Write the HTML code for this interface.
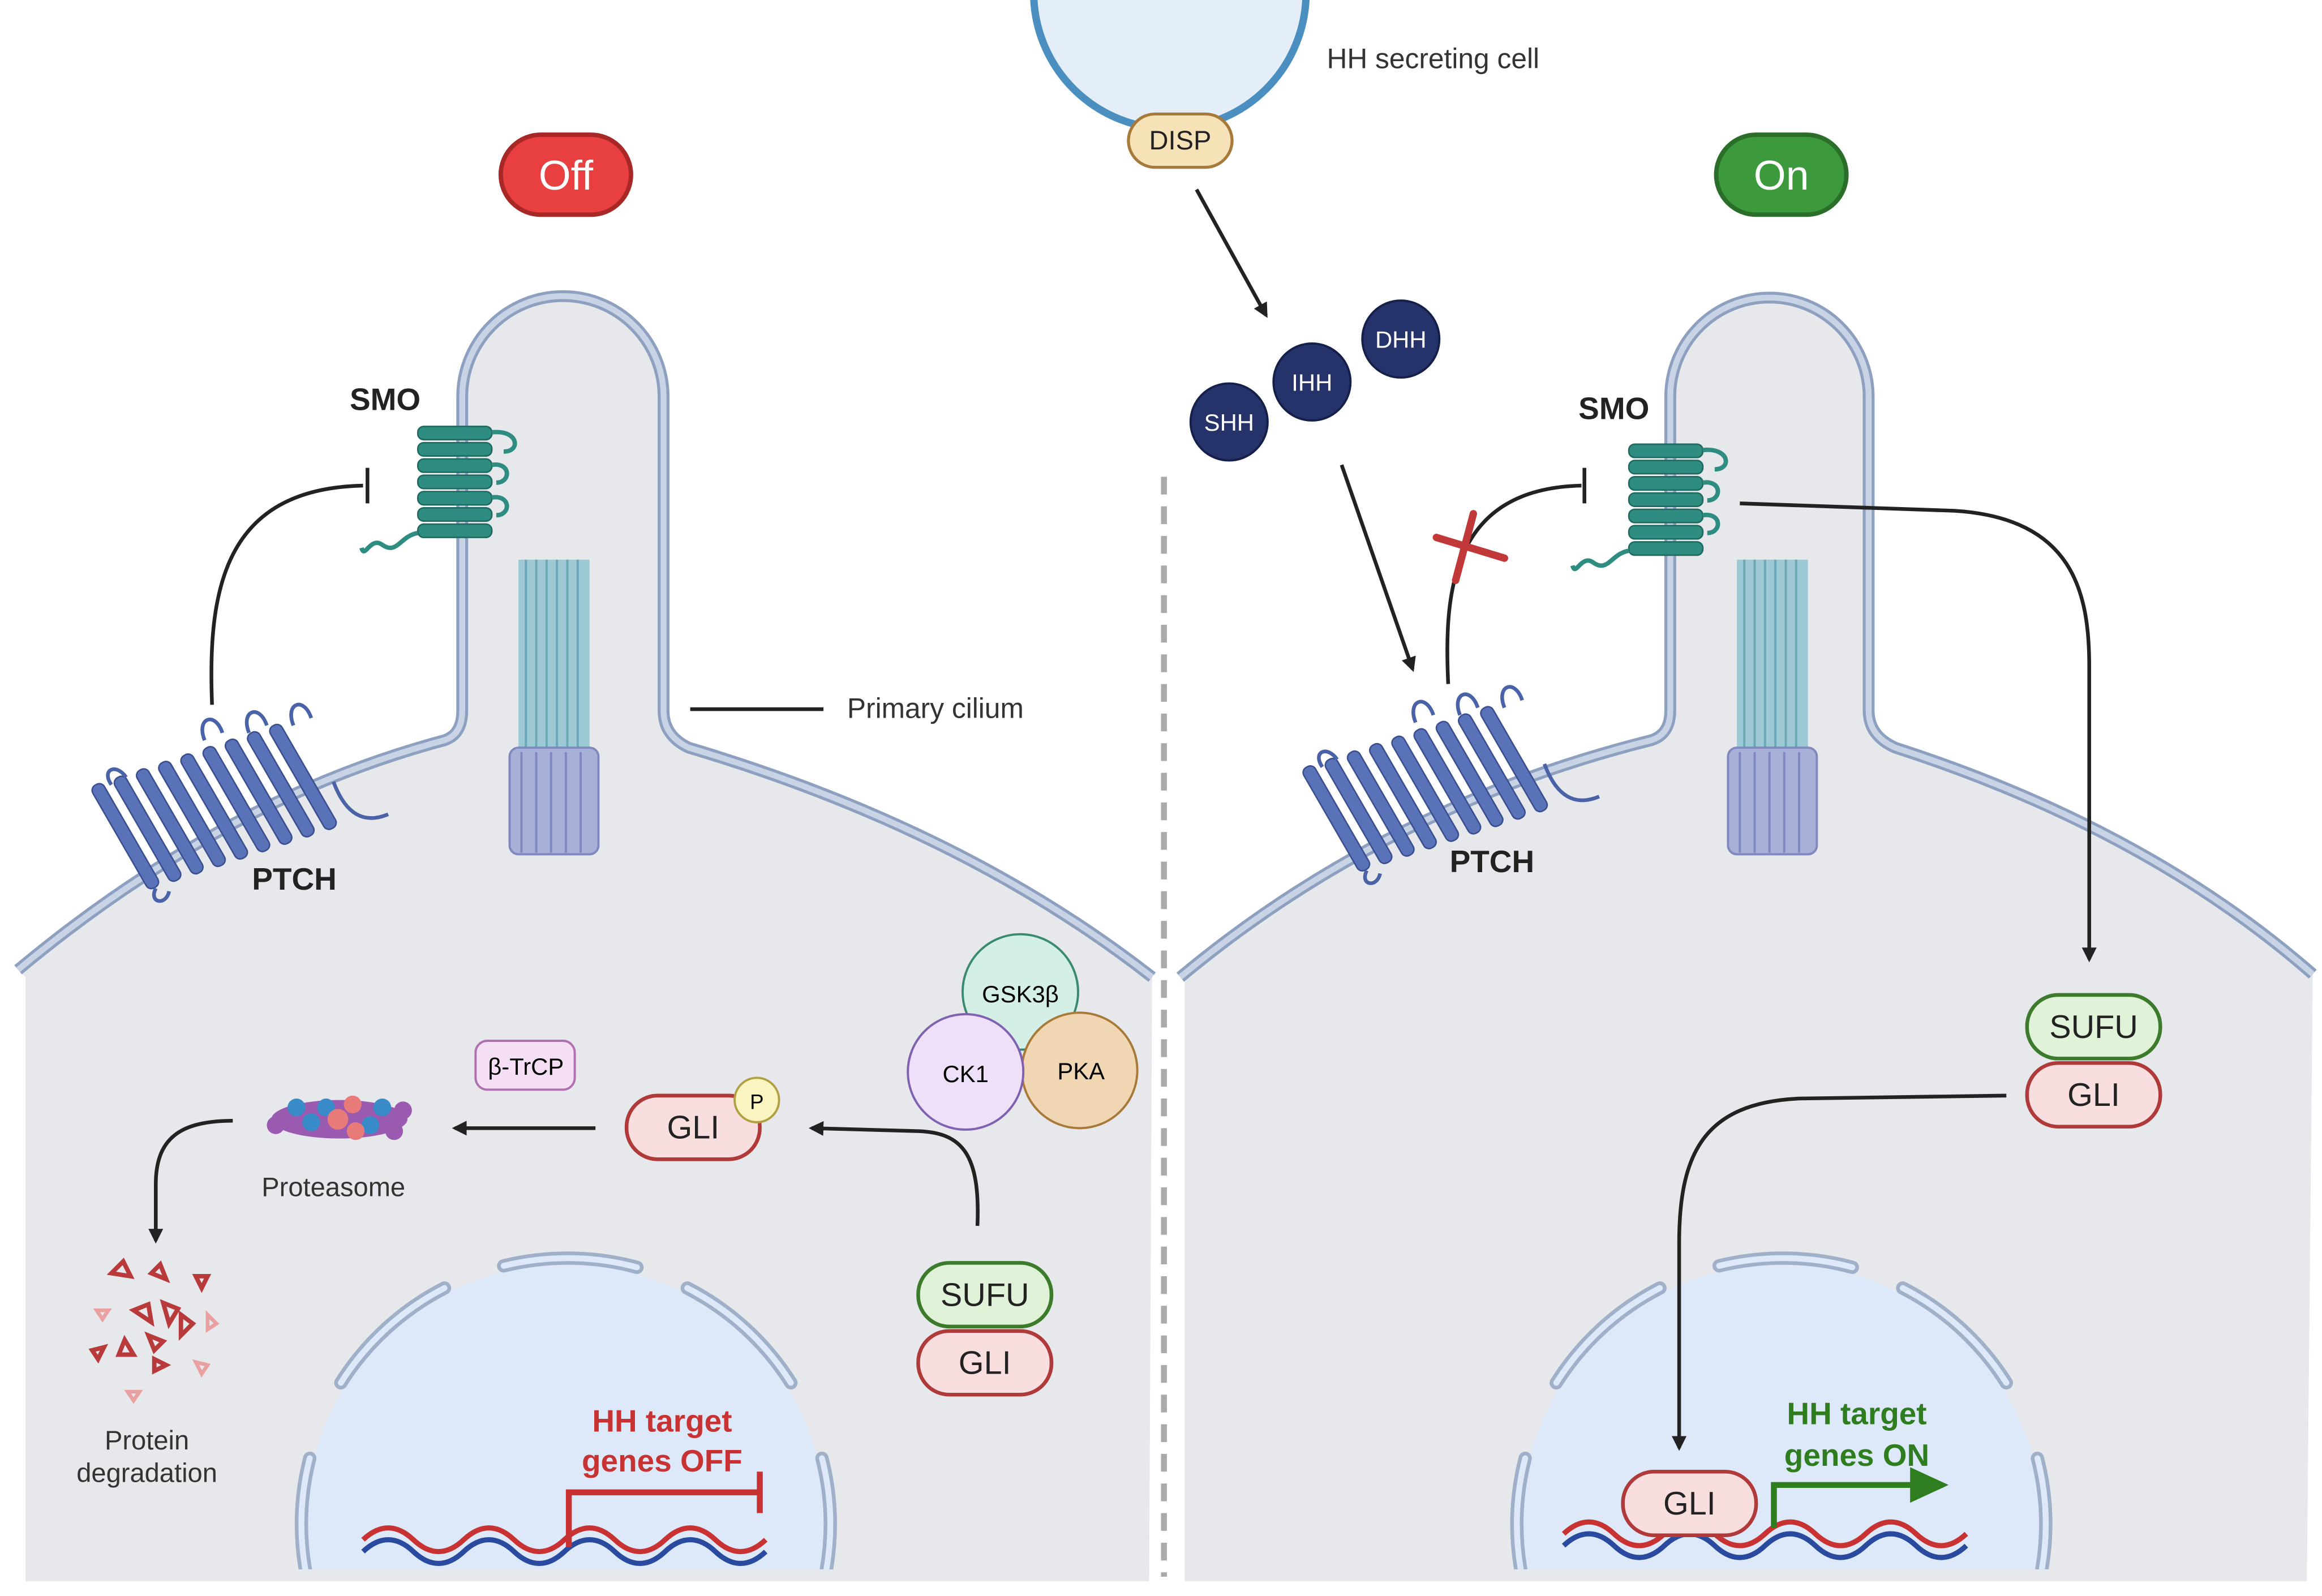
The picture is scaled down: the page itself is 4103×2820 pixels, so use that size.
<!DOCTYPE html>
<html><head><meta charset="utf-8"><style>
html,body{margin:0;padding:0;background:#fff;overflow:hidden;width:4103px;height:2820px;}
svg{display:block;}
text{font-family:"Liberation Sans",sans-serif;}
</style></head><body>
<svg width="4103" height="2820" viewBox="0 0 1568 1078" xmlns="http://www.w3.org/2000/svg">
<defs>
<marker id="ah" markerWidth="10" markerHeight="10" refX="8" refY="5" orient="auto" markerUnits="userSpaceOnUse"><path d="M0,0 L10,5 L0,10 z" fill="#222"/></marker>
<marker id="ahg" markerWidth="30" markerHeight="30" refX="22" refY="12" orient="auto" markerUnits="userSpaceOnUse"><path d="M0,0 L26,12 L0,24 z" fill="#2e7d1e"/></marker>
<clipPath id="cl"><rect x="17" y="0" width="759" height="1060"/></clipPath>
<clipPath id="cr"><rect x="800" y="0" width="758" height="1060"/></clipPath>
<g id="env">
 <path d="M230,934 A180,180 0 0 1 300,870 M340,855 A180,180 0 0 1 430,856 M464,870 A180,180 0 0 1 534,934 M209,985 A180,180 0 0 0 206,1060 M555,985 A180,180 0 0 1 558,1060" fill="none" stroke="#9fb0c8" stroke-width="9" stroke-linecap="round"/>
 <path d="M230,934 A180,180 0 0 1 300,870 M340,855 A180,180 0 0 1 430,856 M464,870 A180,180 0 0 1 534,934 M209,985 A180,180 0 0 0 206,1060 M555,985 A180,180 0 0 1 558,1060" fill="none" stroke="#dde9f8" stroke-width="4" stroke-linecap="round"/>
</g>
<g id="axo">
 <rect x="350" y="378" width="48" height="132" fill="#9cc9d4"/>
 <g stroke="#6aa8b8" stroke-width="1.5"><line x1="355" y1="378" x2="355" y2="510"/><line x1="362" y1="378" x2="362" y2="510"/><line x1="369" y1="378" x2="369" y2="510"/><line x1="376" y1="378" x2="376" y2="510"/><line x1="383" y1="378" x2="383" y2="510"/><line x1="390" y1="378" x2="390" y2="510"/></g>
 <rect x="344" y="505" width="60" height="72" rx="6" fill="#a8b0d8" stroke="#8088c0" stroke-width="1.5"/>
 <g stroke="#8088c0" stroke-width="1.5"><line x1="352" y1="508" x2="352" y2="576"/><line x1="362" y1="508" x2="362" y2="576"/><line x1="372" y1="508" x2="372" y2="576"/><line x1="382" y1="508" x2="382" y2="576"/><line x1="392" y1="508" x2="392" y2="576"/></g>
</g>
<g id="smo">
 <g fill="#2e8c80" stroke="#1f6a60" stroke-width="1">
 <rect x="282" y="288" width="50" height="9" rx="4"/><rect x="282" y="299" width="50" height="9" rx="4"/><rect x="282" y="310" width="50" height="9" rx="4"/><rect x="282" y="321" width="50" height="9" rx="4"/><rect x="282" y="332" width="50" height="9" rx="4"/><rect x="282" y="343" width="50" height="9" rx="4"/><rect x="282" y="354" width="50" height="9" rx="4"/>
 </g>
 <path d="M332,292 C350,290 352,305 340,305 M332,314 C345,312 345,326 335,326 M332,336 C345,334 345,348 335,348 M282,360 C270,362 268,375 258,368 C250,362 246,378 244,370" fill="none" stroke="#2e8c80" stroke-width="3"/>
</g>
<g id="ptch">
 <g fill="#5a72b8" stroke="#3a4f90" stroke-width="1">
 <rect x="80" y="525" width="9" height="80" rx="4" transform="rotate(-30 84 565)"/>
 <rect x="95" y="520" width="9" height="80" rx="4" transform="rotate(-30 99 560)"/>
 <rect x="110" y="515" width="9" height="80" rx="4" transform="rotate(-30 114 555)"/>
 <rect x="125" y="510" width="9" height="80" rx="4" transform="rotate(-30 129 550)"/>
 <rect x="140" y="505" width="9" height="80" rx="4" transform="rotate(-30 144 545)"/>
 <rect x="155" y="500" width="9" height="80" rx="4" transform="rotate(-30 159 540)"/>
 <rect x="170" y="495" width="9" height="80" rx="4" transform="rotate(-30 174 535)"/>
 <rect x="185" y="490" width="9" height="80" rx="4" transform="rotate(-30 189 530)"/>
 <rect x="200" y="485" width="9" height="80" rx="4" transform="rotate(-30 204 525)"/>
 </g>
 <g fill="none" stroke="#4a62a8" stroke-width="2.5">
 <path d="M138,500 C132,485 145,480 150,495"/><path d="M168,495 C162,480 175,475 180,490"/><path d="M198,490 C192,475 205,470 210,485"/>
 <path d="M225,528 C235,555 250,555 262,550"/>
 <path d="M75,530 C68,520 78,515 85,525"/><path d="M105,600 C100,610 112,612 114,602"/>
 </g>
</g>
</defs>

<path d="M12,655 Q150,540 300,500 Q312,496 312,480 L312,268 A68,68 0 0 1 448,268 L448,480 Q448,497 465,505 Q650,560 778,660 L776,1068 L17,1068 L17,660 Z" fill="#e7e8eb"/>
<path d="M12,655 Q150,540 300,500 Q312,496 312,480 L312,268 A68,68 0 0 1 448,268 L448,480 Q448,497 465,505 Q650,560 778,660" fill="none" stroke="#8da0c0" stroke-width="8"/>
<path d="M12,655 Q150,540 300,500 Q312,496 312,480 L312,268 A68,68 0 0 1 448,268 L448,480 Q448,497 465,505 Q650,560 778,660" fill="none" stroke="#c9d3e6" stroke-width="4"/>
<path d="M797,660 Q935,545 1115,500 Q1128,496 1128,480 L1128,268 A67,67 0 0 1 1262,268 L1262,480 Q1262,497 1280,505 Q1450,560 1562,658 L1558,1068 L800,1068 L800,660 Z" fill="#e7e8eb"/>
<path d="M797,660 Q935,545 1115,500 Q1128,496 1128,480 L1128,268 A67,67 0 0 1 1262,268 L1262,480 Q1262,497 1280,505 Q1450,560 1562,658" fill="none" stroke="#8da0c0" stroke-width="8"/>
<path d="M797,660 Q935,545 1115,500 Q1128,496 1128,480 L1128,268 A67,67 0 0 1 1262,268 L1262,480 Q1262,497 1280,505 Q1450,560 1562,658" fill="none" stroke="#c9d3e6" stroke-width="4"/>

<line x1="786" y1="322" x2="786" y2="1065" stroke="#aaa" stroke-width="4" stroke-dasharray="12,8"/>

<g clip-path="url(#cl)">
<circle cx="382" cy="1030" r="176" fill="#dde9f8"/>
<use href="#env"/>
</g>
<g clip-path="url(#cr)">
<circle cx="1203" cy="1030" r="176" fill="#dde9f8"/>
<use href="#env" transform="translate(821,0)"/>
</g>

<use href="#axo"/>
<use href="#axo" transform="translate(823,0)"/>
<use href="#smo"/>
<use href="#smo" transform="translate(818,12)"/>
<use href="#ptch"/>
<use href="#ptch" transform="translate(818,-12)"/>

<g fill="none" stroke-width="3.5">
<path d="M245,1040 q17,-16 34,0 t34,0 t34,0 t34,0 t34,0 t34,0 t34,0 t34,0" stroke="#c83232"/>
<path d="M245,1048 q17,-16 34,0 t34,0 t34,0 t34,0 t34,0 t34,0 t34,0 t34,0" stroke="#2a4aa0"/>
<path d="M1056,1036 q17,-16 34,0 t34,0 t34,0 t34,0 t34,0 t34,0 t34,0 t34,0" stroke="#c83232"/>
<path d="M1056,1044 q17,-16 34,0 t34,0 t34,0 t34,0 t34,0 t34,0 t34,0 t34,0" stroke="#2a4aa0"/>
</g>
<path d="M384,1045 L384,1008 L513,1008 M513,994 L513,1022" fill="none" stroke="#c83232" stroke-width="4"/>
<text x="447" y="967" font-size="21" font-weight="bold" fill="#c83232" text-anchor="middle">HH target</text>
<text x="447" y="994" font-size="21" font-weight="bold" fill="#c83232" text-anchor="middle">genes OFF</text>
<path d="M1198,1032 L1198,1003 L1312,1003" fill="none" stroke="#2e7d1e" stroke-width="4" marker-end="url(#ahg)"/>
<text x="1254" y="962" font-size="21" font-weight="bold" fill="#2e7d1e" text-anchor="middle">HH target</text>
<text x="1254" y="990" font-size="21" font-weight="bold" fill="#2e7d1e" text-anchor="middle">genes ON</text>

<circle cx="790" cy="-5" r="92" fill="#e3eef8" stroke="#4a8fc0" stroke-width="5"/>
<rect x="762" y="77" width="70" height="36" rx="18" fill="#f5e2b6" stroke="#a87a3a" stroke-width="2"/>
<text x="797" y="101" font-size="18" text-anchor="middle" fill="#222">DISP</text>
<text x="896" y="46" font-size="19" fill="#333">HH secreting cell</text>

<rect x="338" y="91" width="88" height="54" rx="27" fill="#e84040" stroke="#a82828" stroke-width="3"/>
<text x="382" y="128" font-size="28" fill="#fff" text-anchor="middle">Off</text>
<rect x="1159" y="91" width="88" height="54" rx="27" fill="#3c9a3c" stroke="#2a6e2a" stroke-width="3"/>
<text x="1203" y="128" font-size="28" fill="#fff" text-anchor="middle">On</text>

<g fill="#26336a" stroke="#15204a" stroke-width="1.5">
<circle cx="830" cy="285" r="26"/><circle cx="886" cy="258" r="26"/><circle cx="946" cy="229" r="26"/></g>
<g fill="#fff" font-size="16" text-anchor="middle"><text x="830" y="291">SHH</text><text x="886" y="264">IHH</text><text x="946" y="235">DHH</text></g>

<g fill="none" stroke="#222" stroke-width="2.5">
<line x1="808" y1="128" x2="855" y2="213" marker-end="url(#ah)"/>
<line x1="906" y1="314" x2="954" y2="452" marker-end="url(#ah)"/>
<path d="M143,476 C140,400 150,330 245,328 M248,316 L248,340"/>
<path d="M978,462 C975,400 980,330 1068,328 M1070,316 L1070,340"/>
<path d="M1175,340 L1320,345 C1400,350 1411,400 1411,450 L1411,648" marker-end="url(#ah)"/>
<path d="M1355,740 L1215,742 C1150,745 1134,780 1134,840 L1134,978" marker-end="url(#ah)"/>
<path d="M660,828 C662,780 650,765 620,764 L548,762" marker-end="url(#ah)"/>
<line x1="402" y1="762" x2="307" y2="762" marker-end="url(#ah)"/>
<path d="M157,757 C120,757 105,770 105,800 L105,838" marker-end="url(#ah)"/>
<line x1="466" y1="479" x2="556" y2="479"/>
</g>
<g stroke="#c03838" stroke-width="5" stroke-linecap="round"><line x1="970" y1="363" x2="1016" y2="377"/><line x1="995" y1="347" x2="983" y2="392"/></g>

<g font-weight="bold" font-size="21" fill="#222">
<text x="236" y="277">SMO</text><text x="170" y="601">PTCH</text>
<text x="1066" y="283">SMO</text><text x="979" y="589">PTCH</text></g>
<text x="572" y="485" font-size="19" fill="#333">Primary cilium</text>
<text x="225" y="808" font-size="18" fill="#333" text-anchor="middle">Proteasome</text>
<text x="99" y="979" font-size="18" fill="#333" text-anchor="middle">Protein</text>
<text x="99" y="1001" font-size="18" fill="#333" text-anchor="middle">degradation</text>

<circle cx="689" cy="670" r="39" fill="#d3efe6" stroke="#3a8a70" stroke-width="1.5"/>
<text x="689" y="677" font-size="16" text-anchor="middle">GSK3β</text>
<circle cx="729" cy="723" r="39" fill="#f0d6b2" stroke="#a87a3a" stroke-width="1.5"/>
<text x="730" y="729" font-size="16" text-anchor="middle">PKA</text>
<circle cx="652" cy="724" r="39" fill="#ede0f8" stroke="#8060b0" stroke-width="1.5"/>
<text x="652" y="731" font-size="16" text-anchor="middle">CK1</text>
<rect x="321" y="703" width="67" height="33" rx="8" fill="#f5dff5" stroke="#b070b0" stroke-width="1.5"/>
<text x="355" y="726" font-size="16" text-anchor="middle">β-TrCP</text>

<g font-size="22" text-anchor="middle" fill="#222">
<rect x="423" y="740" width="90" height="43" rx="21" fill="#f8dede" stroke="#b03a3a" stroke-width="2.5"/><text x="468" y="769">GLI</text>
<rect x="620" y="853" width="90" height="43" rx="21" fill="#e0f2d8" stroke="#3c7a2c" stroke-width="2.5"/><text x="665" y="882">SUFU</text>
<rect x="620" y="899" width="90" height="43" rx="21" fill="#f8dede" stroke="#b03a3a" stroke-width="2.5"/><text x="665" y="928">GLI</text>
<rect x="1369" y="672" width="90" height="43" rx="21" fill="#e0f2d8" stroke="#3c7a2c" stroke-width="2.5"/><text x="1414" y="701">SUFU</text>
<rect x="1369" y="718" width="90" height="43" rx="21" fill="#f8dede" stroke="#b03a3a" stroke-width="2.5"/><text x="1414" y="747">GLI</text>
<rect x="1096" y="994" width="90" height="43" rx="21" fill="#f8dede" stroke="#b03a3a" stroke-width="2.5"/><text x="1141" y="1023">GLI</text>
</g>
<circle cx="511" cy="743" r="15" fill="#faf4c0" stroke="#b0a040" stroke-width="1.5"/>
<text x="511" y="749" font-size="14" text-anchor="middle">P</text>

<g>
<ellipse cx="229" cy="756" rx="46" ry="13" fill="#9a5ab0"/>
<g fill="#3a8cc8"><circle cx="200" cy="748" r="6"/><circle cx="210" cy="758" r="6"/><circle cx="220" cy="748" r="6"/><circle cx="250" cy="760" r="6"/><circle cx="258" cy="748" r="6"/></g>
<g fill="#e87a7a"><circle cx="228" cy="756" r="7"/><circle cx="238" cy="746" r="6"/><circle cx="240" cy="764" r="6"/></g>
<g fill="#9a5ab0"><circle cx="186" cy="760" r="6"/><circle cx="272" cy="750" r="6"/><circle cx="266" cy="764" r="6"/></g>
</g>
<g fill="none" stroke="#b83a3a" stroke-width="3">
<path d="M75,860 l8,-8 l5,10 z"/><path d="M102,860 l6,-6 l4,10 z"/><path d="M132,862 l8,0 l-4,8 z"/><path d="M90,885 l10,-4 l2,12 z"/><path d="M110,880 l10,4 l-6,10 z"/><path d="M122,888 l8,6 l-8,8 z"/><path d="M84,905 l6,10 l-10,0 z"/><path d="M100,902 l10,4 l-6,6 z"/><path d="M62,912 l8,-2 l-4,8 z"/><path d="M104,918 l8,4 l-8,4 z"/>
</g>
<g fill="none" stroke="#e8a0a0" stroke-width="2.5"><path d="M65,885 l8,0 l-4,6 z"/><path d="M140,888 l6,6 l-6,4 z"/><path d="M132,920 l8,2 l-4,6 z"/><path d="M86,940 l8,0 l-4,6 z"/></g>
</svg>
</body></html>
